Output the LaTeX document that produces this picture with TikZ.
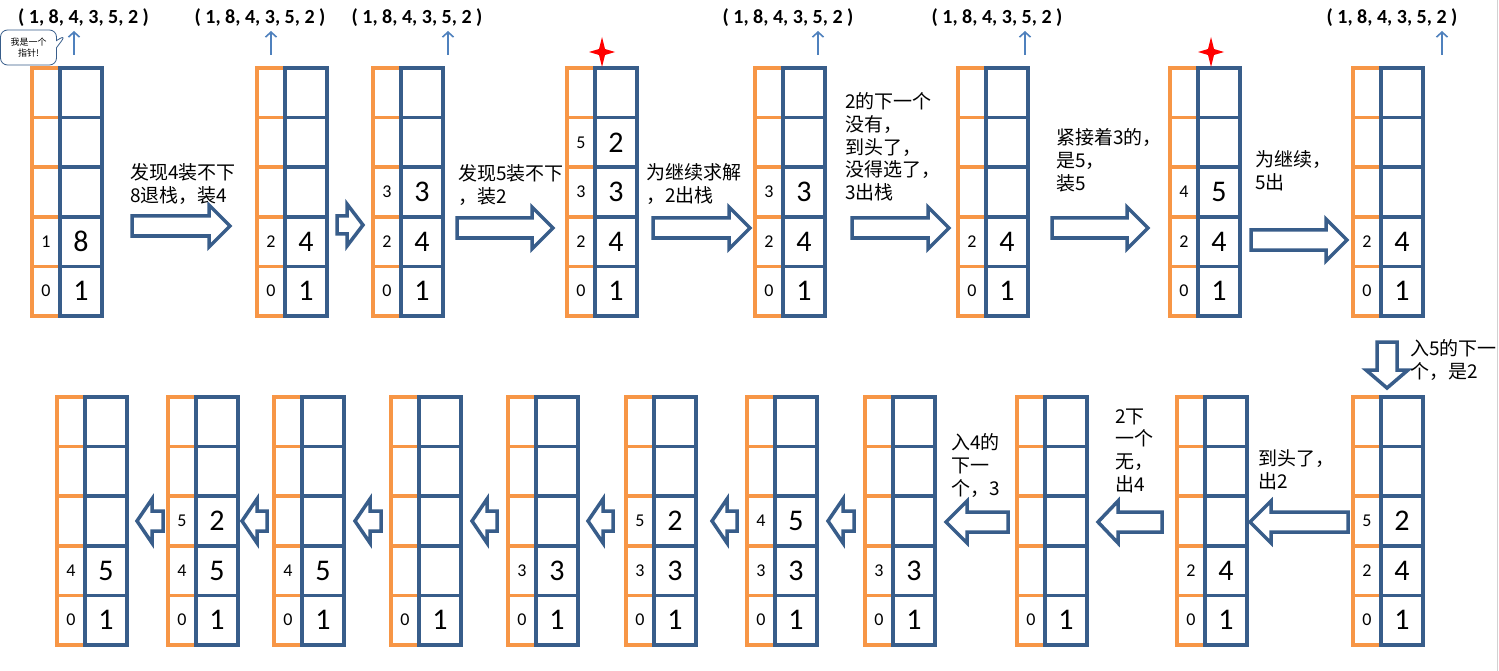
\documentclass[tikz,border=0pt]{standalone}
\usepackage{fontspec}
\usepackage{tikz}
\usetikzlibrary{shapes,shapes.callouts,arrows,arrows.meta,calc}
\newfontfamily\cjk{Noto Sans CJK SC}
\newfontfamily\numfont{Carlito}
\definecolor{stackblue}{HTML}{385D8A}
\definecolor{stackorange}{HTML}{F79646}
\definecolor{ptrblue}{HTML}{4F81BD}
\tikzstyle{oline} = [draw=stackorange, line width=3.6pt]
\tikzstyle{bline} = [draw=stackblue, line width=3.6pt]
\tikzstyle{idx} = [font=\numfont\fontsize{18}{18}\selectfont, inner sep=0pt]
\tikzstyle{val} = [font=\numfont\fontsize{30}{30}\selectfont, inner sep=0pt]
\tikzstyle{tuple} = [font=\numfont\bfseries\fontsize{20}{20}\selectfont, inner sep=0pt]
\tikzstyle{note} = [font=\cjk\fontsize{19}{22.7}\selectfont, align=left,
    anchor=north west, inner sep=0pt]
\tikzstyle{hollow} = [draw=stackblue, fill=white, line width=3.5pt]
\tikzstyle{ptr} = [draw=ptrblue, line width=1.6pt,
    -{Straight Barb[length=5pt,width=11pt]}]
\tikzstyle{redstar} = [fill=red]
\tikzstyle{bubble} = [rectangle callout, draw=stackblue, line width=0.8pt,
    fill=white, rounded corners=7pt, minimum width=56pt, minimum height=35pt,
    inner sep=0pt, align=center, font=\cjk\fontsize{9}{11}\selectfont]

% one stack: name, x, y of top left corner, cells row/index/value
\newcommand{\stackbox}[4]{%
  \coordinate (#1) at (#2,#3);
  \foreach \k in {1,...,4}
    \draw[oline] ($(#1)+(0,\k*49.6)$) -- ++(28,0);
  \draw[oline] ($(#1)+(28,0)$) -- (#1) -- ++(0,248) -- ++(28,0);
  \draw[bline] ($(#1)+(28,0)$) rectangle ++(42,248);
  \foreach \k in {1,...,4}
    \draw[bline] ($(#1)+(28,\k*49.6)$) -- ++(42,0);
  \foreach \rw/\ix/\vl in {#4} {
    \node[idx] (#1-i\rw) at ($(#1)+(14,{(4-\rw)*49.6+24.8})$) {\ix};
    \node[val] (#1-v\rw) at ($(#1)+(49,{(4-\rw)*49.6+24.8})$) {\vl};
  }
}
% hollow block arrow: name, from, to, shaft half, head half, head length
\newcommand{\bigarrow}[6]{%
  \coordinate (#1-s) at (#2);
  \coordinate (#1-t) at (#3);
  \coordinate (#1-h) at ($(#1-t)!#6!(#1-s)$);
  \draw[hollow] ($(#1-s)!#4!90:(#1-t)$) -- ($(#1-h)!#4!90:(#1-t)$)
    -- ($(#1-h)!#5!90:(#1-t)$) -- (#1-t) -- ($(#1-h)!#5!-90:(#1-t)$)
    -- ($(#1-h)!#4!-90:(#1-t)$) -- ($(#1-s)!#4!-90:(#1-t)$) -- cycle;
}
% four pointed star round a named coordinate
\newcommand{\sparkle}[1]{%
  \fill[redstar] (#1) ++(0,-15) -- ++(3,12) -- ++(10,3) -- ++(-10,3)
    -- ++(-3,12) -- ++(-3,-12) -- ++(-10,-3) -- ++(10,-3) -- cycle;
}

\begin{document}
\begin{tikzpicture}[x=1pt, y=-1pt]

\fill[white] (0,0) rectangle (1499,671);
\useasboundingbox (0,0) rectangle (1499,671);
\draw[gray!35, line width=1pt] (1497,0) -- (1497,671);

% top row
\stackbox{s1}{32}{68}{0/0/1,1/1/8}
\stackbox{s2}{257}{68}{0/0/1,1/2/4}
\stackbox{s3}{373}{68}{0/0/1,1/2/4,2/3/3}
\stackbox{s4}{567}{68}{0/0/1,1/2/4,2/3/3,3/5/2}
\stackbox{s5}{755}{68}{0/0/1,1/2/4,2/3/3}
\stackbox{s6}{958}{68}{0/0/1,1/2/4}
\stackbox{s7}{1170}{68}{0/0/1,1/2/4,2/4/5}
\stackbox{s8}{1353}{68}{0/0/1,1/2/4}

% bottom row
\stackbox{b1}{57}{397}{0/0/1,1/4/5}
\stackbox{b2}{168}{397}{0/0/1,1/4/5,2/5/2}
\stackbox{b3}{274}{397}{0/0/1,1/4/5}
\stackbox{b4}{391}{397}{0/0/1}
\stackbox{b5}{508}{397}{0/0/1,1/3/3}
\stackbox{b6}{626}{397}{0/0/1,1/3/3,2/5/2}
\stackbox{b7}{747}{397}{0/0/1,1/3/3,2/4/5}
\stackbox{b8}{865}{397}{0/0/1,1/3/3}
\stackbox{b9}{1017}{397}{0/0/1}
\stackbox{b10}{1177}{397}{0/0/1,1/2/4}
\stackbox{b11}{1353}{397}{0/0/1,1/2/4,2/5/2}

% tuples and pointers
\node[tuple] (tup1) at (83.5,18) {( 1, 8, 4, 3, 5, 2 )};
\node[tuple] (tup2) at (260,18) {( 1, 8, 4, 3, 5, 2 )};
\node[tuple] (tup3) at (417,18) {( 1, 8, 4, 3, 5, 2 )};
\node[tuple] (tup4) at (788,18) {( 1, 8, 4, 3, 5, 2 )};
\node[tuple] (tup5) at (997,18) {( 1, 8, 4, 3, 5, 2 )};
\node[tuple] (tup6) at (1392,18) {( 1, 8, 4, 3, 5, 2 )};
\coordinate (p1a) at (74,55);   \coordinate (p1b) at (74,31);
\coordinate (p2a) at (271,55);  \coordinate (p2b) at (271,31);
\coordinate (p3a) at (448,55);  \coordinate (p3b) at (448,31);
\coordinate (p4a) at (818,55);  \coordinate (p4b) at (818,31);
\coordinate (p5a) at (1025,55); \coordinate (p5b) at (1025,31);
\coordinate (p6a) at (1442,55); \coordinate (p6b) at (1442,31);
\draw[ptr] (p1a) -- (p1b);
\draw[ptr] (p2a) -- (p2b);
\draw[ptr] (p3a) -- (p3b);
\draw[ptr] (p4a) -- (p4b);
\draw[ptr] (p5a) -- (p5b);
\draw[ptr] (p6a) -- (p6b);
\node[bubble, callout absolute pointer={(66,35)}] (talk) at (28.5,47.5)
    {我是一个\\指针!};

\coordinate (star1) at (602,52);
\coordinate (star2) at (1211,52);
\sparkle{star1}
\sparkle{star2}

% arrows
\bigarrow{a1}{132,226}{230,226}{10pt}{21pt}{21pt}
\bigarrow{a2}{337,225}{363,225}{9pt}{21pt}{16pt}
\bigarrow{a3}{457,228}{553,228}{10pt}{21pt}{21pt}
\bigarrow{a4}{653,228}{750,228}{10pt}{21pt}{21pt}
\bigarrow{a5}{852,228}{949,228}{10pt}{21pt}{21pt}
\bigarrow{a6}{1052,228}{1148,228}{10pt}{21pt}{21pt}
\bigarrow{a7}{1251,240}{1347,240}{10pt}{21pt}{21pt}
\bigarrow{dn}{1387,342}{1387,388}{10pt}{21pt}{18pt}
\bigarrow{c1}{1348,522}{1250,522}{10pt}{21pt}{21pt}
\bigarrow{c2}{1162,522}{1098,522}{10pt}{21pt}{20pt}
\bigarrow{c3}{1008,522}{946,522}{10pt}{21pt}{21pt}
\bigarrow{c4}{854,521}{828,521}{10pt}{22pt}{15pt}
\bigarrow{c5}{737,521}{712,521}{10pt}{22pt}{15pt}
\bigarrow{c6}{613,521}{588,521}{10pt}{22pt}{15pt}
\bigarrow{c7}{497,521}{472,521}{10pt}{22pt}{15pt}
\bigarrow{c8}{381,521}{355,521}{10pt}{22pt}{15pt}
\bigarrow{c9}{267,521}{242,521}{10pt}{22pt}{15pt}
\bigarrow{c10}{163,521}{137,521}{10pt}{22pt}{15pt}

% notes
\node[note] (n1) at (130,163.5) {发现4装不下\\8退栈，装4};
\node[note] (n2) at (458,164.5) {发现5装不下\\，装2};
\node[note] (n3) at (646,163.5) {为继续求解\\，2出栈};
\node[note] (n4) at (845,92.5) {2的下一个\\没有，\\到头了，\\没得选了，\\3出栈};
\node[note] (n5) at (1056,128.5) {紧接着3的，\\是5，\\装5};
\node[note] (n6) at (1255,150.5) {为继续，\\5出};
\node[note] (n7) at (1410,339.5) {入5的下一\\个，是2};
\node[note] (n8) at (1258,449.5) {到头了，\\出2};
\node[note] (n9) at (1115,408.5) {2下\\一个\\无，\\出4};
\node[note] (n10) at (951,433.5) {入4的\\下一\\个，3};

\end{tikzpicture}
\end{document}
